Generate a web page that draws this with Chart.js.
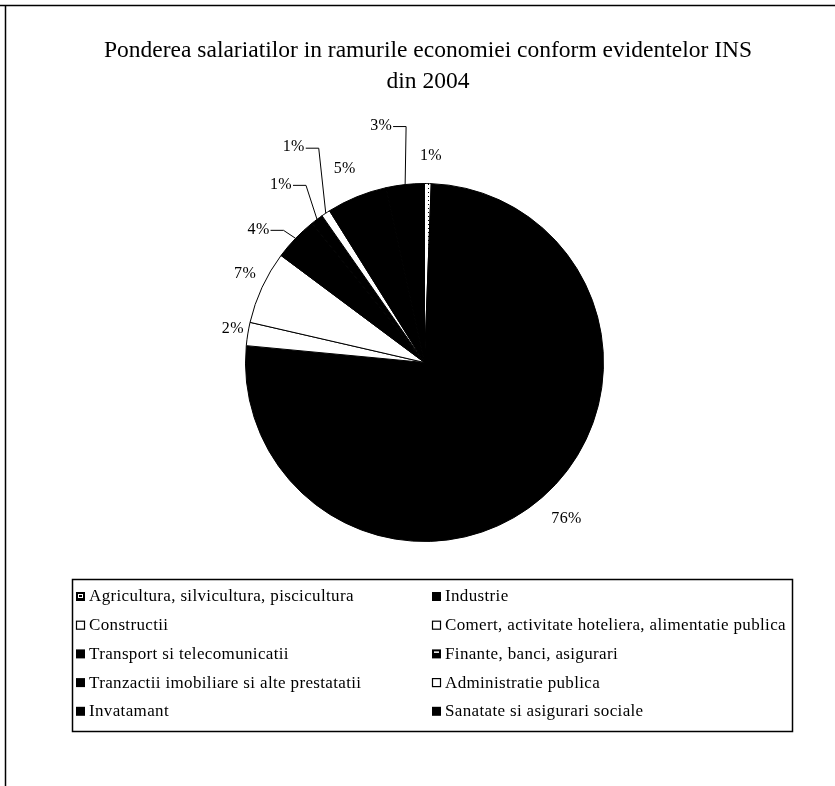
<!DOCTYPE html>
<html>
<head>
<meta charset="utf-8">
<script src="https://cdn.jsdelivr.net/npm/chart.js@4.4.0/dist/chart.umd.min.js"></script>
<style>
  html, body { margin: 0; padding: 0; background: #fff; }
  #wrap { width: 835px; height: 786px; }
</style>
</head>
<body>
<div id="wrap"><canvas id="chart" width="835" height="786"></canvas></div>
<script>
const titleLines = ['Ponderea salariatilor in ramurile economiei conform evidentelor INS', 'din 2004'];

const categories = [
  'Agricultura, silvicultura, piscicultura',
  'Industrie',
  'Constructii',
  'Comert, activitate hoteliera, alimentatie publica',
  'Transport si telecomunicatii',
  'Finante, banci, asigurari',
  'Tranzactii imobiliare si alte prestatatii',
  'Administratie publica',
  'Invatamant',
  'Sanatate si asigurari sociale'
];

// procente (unghiurile feliilor)
const shares = [0.6, 75.9, 2.1, 6.6, 4.0, 0, 1.1, 0.8, 5.45, 3.45];

// stil: umplere pentru fiecare felie
const sliceFills = ['agri', '#000', '#fff', '#fff', '#000', 'fin', '#000', '#fff', '#000', '#000'];

// pozitia etichetei fata de marginea feliei [dx, dy, linie de legatura]
const labelOffsets = [
  [3, -28, false], [24, 22, false], [-15, -5, false], [-17, -14, false], [-37, -9, true],
  [0, 0, false], [-36, -35, true], [-32, -66, true], [-12, -28, false], [-24, -59, true]
];

const SERIF = '"Liberation Serif", "DejaVu Serif", serif';

function makePattern() {
  const c = document.createElement('canvas');
  c.width = 4; c.height = 4;
  const g = c.getContext('2d');
  g.fillStyle = '#fff';
  g.fillRect(0, 0, 4, 4);
  g.fillStyle = '#000';
  g.fillRect(0, 0, 1, 1);
  return document.getElementById('chart').getContext('2d').createPattern(c, 'repeat');
}
const agriPattern = makePattern();
const fills = sliceFills.map(f => f === 'agri' ? agriPattern : (f === 'fin' ? '#000' : f));

function drawMarker(ctx, kind, x, y) {
  const s = 9;
  if (kind === '#fff') {
    ctx.fillStyle = '#fff';
    ctx.fillRect(x, y, s, s);
    ctx.strokeStyle = '#000';
    ctx.lineWidth = 1.2;
    ctx.strokeRect(x + 0.5, y + 0.5, s - 1, s - 1);
    return;
  }
  ctx.fillStyle = '#000';
  ctx.fillRect(x, y, s, s);
  if (kind === 'agri') {
    ctx.strokeStyle = '#fff';
    ctx.lineWidth = 1;
    ctx.strokeRect(x + 2.5, y + 2.5, 4, 3);
  } else if (kind === 'fin') {
    ctx.fillStyle = '#fff';
    ctx.fillRect(x + 2, y + 2, 5, 1.5);
  }
}

const decorPlugin = {
  id: 'decor',
  afterDraw(chart) {
    const ctx = chart.ctx;
    ctx.save();

    // rama
    ctx.strokeStyle = '#000';
    ctx.lineWidth = 1.5;
    ctx.beginPath();
    ctx.moveTo(0, 5.5); ctx.lineTo(835, 5.5);
    ctx.moveTo(5.5, 5); ctx.lineTo(5.5, 786);
    ctx.stroke();

    // titlu
    ctx.fillStyle = '#000';
    ctx.textAlign = 'center';
    ctx.textBaseline = 'middle';
    ctx.font = '23.5px ' + SERIF;
    ctx.fillText(titleLines[0], 428, 51);
    ctx.fillText(titleLines[1], 428, 82);

    // etichete procente
    const meta = chart.getDatasetMeta(0);
    ctx.font = '16px ' + SERIF;
    ctx.letterSpacing = '0.3px';
    meta.data.forEach((arc, i) => {
      const v = shares[i];
      if (!v) return;
      const p = arc.getProps(['x', 'y', 'startAngle', 'endAngle', 'outerRadius'], true);
      const mid = (p.startAngle + p.endAngle) / 2;
      const ax = p.x + Math.cos(mid) * p.outerRadius;
      const ay = p.y + Math.sin(mid) * p.outerRadius;
      const [dx, dy, leader] = labelOffsets[i];
      const lx = ax + dx, ly = ay + dy;
      const txt = Math.round(v) + '%';
      ctx.fillStyle = '#000';
      ctx.textAlign = 'center';
      ctx.fillText(txt, lx, ly);
      if (leader) {
        const x0 = lx + ctx.measureText(txt).width / 2 + 1;
        ctx.strokeStyle = '#000';
        ctx.lineWidth = 1;
        ctx.beginPath();
        ctx.moveTo(x0, ly + 1);
        ctx.lineTo(x0 + 13, ly + 1);
        ctx.lineTo(ax, ay);
        ctx.stroke();
      }
    });

    // legenda
    const box = { x: 72, y: 579, w: 720, h: 152 };
    ctx.strokeStyle = '#000';
    ctx.lineWidth = 1.5;
    ctx.strokeRect(box.x + 0.5, box.y + 0.5, box.w, box.h);
    ctx.font = '17px ' + SERIF;
    ctx.letterSpacing = '0.35px';
    ctx.textAlign = 'left';
    categories.forEach((name, i) => {
      const col = i % 2, row = Math.floor(i / 2);
      const mx = col === 0 ? 76 : 432;
      const cy = 597 + row * 28.7;
      drawMarker(ctx, sliceFills[i], mx, cy - 5);
      ctx.fillStyle = '#000';
      ctx.fillText(name, mx + 13, cy);
    });

    ctx.restore();
  }
};

new Chart(document.getElementById('chart'), {
  type: 'pie',
  data: {
    labels: categories,
    datasets: [{
      data: shares,
      backgroundColor: fills,
      borderColor: '#000',
      borderWidth: 1,
      hoverOffset: 0
    }]
  },
  options: {
    responsive: false,
    animation: false,
    layout: { padding: { left: 245, right: 231, top: 183, bottom: 244 } },
    plugins: {
      legend: { display: false },
      tooltip: { enabled: false },
      title: { display: false }
    }
  },
  plugins: [decorPlugin]
});
</script>
</body>
</html>
